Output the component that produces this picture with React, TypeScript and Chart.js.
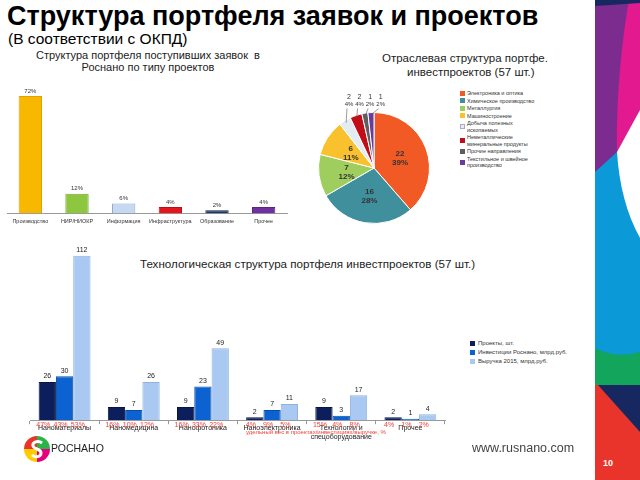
import React, { useEffect, useRef } from 'react';
import { Chart, registerables } from 'chart.js';

Chart.register(...registerables);

const FONT = '"Liberation Sans", Arial, sans-serif';

// ---- Chart 1: applications by project type ----
const appTypes = ['Производство', 'НИР/НИОКР', 'Информация', 'Инфраструктура', 'Образование', 'Прочее'];
const appShares = [72, 12, 6, 4, 2, 4];
const appColors = ['#f9b800', '#8dc63f', '#c6d9f1', '#e3151d', '#1f3864', '#7030a0'];
const appBorders = ['#e0a200', '#76a934', '#8eaad6', '#b80f15', '#132447', '#5a2582'];

// ---- Chart 2: industry structure ----
const industries = [
  'Электроника и оптика',
  'Химическое производство',
  'Металлургия',
  'Машиностроение',
  'Добыча полезных ископаемых',
  'Неметаллические минеральные продукты',
  'Прочие направления',
  'Текстильное и швейное производство',
];
const industryLegendLines = [
  ['Электроника и оптика'],
  ['Химическое производство'],
  ['Металлургия'],
  ['Машиностроение'],
  ['Добыча полезных', 'ископаемых'],
  ['Неметаллические', 'минеральные продукты'],
  ['Прочие направления'],
  ['Текстильное и швейное', 'производство'],
];
const industryProjects = [22, 16, 7, 6, 2, 2, 1, 1];
const industryPct = ['39%', '28%', '12%', '11%', '4%', '4%', '2%', '2%'];
const industryColors = ['#f15a25', '#3f8f9d', '#9fcd5e', '#f9c12e', '#e2ecf1', '#c00d17', '#5e5e5e', '#6a3b9c'];

// ---- Chart 3: technology structure ----
const techAreas = [['Наноматериалы'], ['Наномедицина'], ['Нанофотоника'], ['Наноэлектроника'], ['Технологии и', 'спецоборудование'], ['Прочее']];
const seriesNames = ['Проекты, шт.', 'Инвестиции Роснано, млрд.руб.', 'Выручка 2015, млрд.руб.'];
const seriesColors = ['#0c1f5c', '#0b62d0', '#a9c9f2'];
const seriesBorders = ['#08163f', '#084ea6', '#8fb2de'];
const projects = [26, 9, 9, 2, 9, 2];
const investments = [30, 7, 23, 7, 3, 1];
const revenue = [112, 26, 49, 11, 17, 4];
const projectsPct = ['47%', '16%', '16%', '4%', '15%', '4%'];
const investmentsPct = ['43%', '10%', '33%', '9%', '4%', '1%'];
const revenuePct = ['53%', '12%', '22%', '5%', '8%', '2%'];

function valueLabels(fmt: (v: number) => string, font: string, color: string) {
  return {
    id: 'valueLabels',
    afterDatasetsDraw(chart: any) {
      const ctx = chart.ctx;
      ctx.save();
      ctx.font = font;
      ctx.fillStyle = color;
      ctx.textAlign = 'center';
      ctx.textBaseline = 'bottom';
      chart.data.datasets.forEach((ds: any, di: number) => {
        chart.getDatasetMeta(di).data.forEach((el: any, i: number) => {
          ctx.fillText(fmt(ds.data[i]), el.x, el.y - 2);
        });
      });
      ctx.restore();
    },
  };
}

const pctLabelsPlugin = {
  id: 'pctLabels',
  afterDraw(chart: any) {
    const ctx = chart.ctx;
    const all = [projectsPct, investmentsPct, revenuePct];
    ctx.save();
    ctx.font = `7px ${FONT}`;
    ctx.fillStyle = '#f0403c';
    ctx.textAlign = 'center';
    ctx.textBaseline = 'top';
    chart.data.datasets.forEach((_ds: any, di: number) => {
      chart.getDatasetMeta(di).data.forEach((el: any, i: number) => {
        ctx.fillText(all[di][i], el.x - 4, chart.chartArea.bottom + 1);
      });
    });
    ctx.restore();
  },
};

const pieLabelsPlugin = {
  id: 'pieLabels',
  afterDatasetsDraw(chart: any) {
    const ctx = chart.ctx;
    const meta = chart.getDatasetMeta(0);
    ctx.save();
    ctx.textAlign = 'center';
    ctx.textBaseline = 'middle';
    meta.data.forEach((arc: any, i: number) => {
      const p = arc.getProps(['x', 'y', 'startAngle', 'endAngle', 'outerRadius'], true);
      const mid = (p.startAngle + p.endAngle) / 2;
      const v = String(industryProjects[i]);
      if (i < 4) {
        const px = p.x + Math.cos(mid) * p.outerRadius * 0.5;
        const py = p.y + Math.sin(mid) * p.outerRadius * 0.5;
        ctx.fillStyle = '#333';
        ctx.font = `bold 8px ${FONT}`;
        ctx.fillText(v, px, py - 4);
        ctx.fillText(industryPct[i], px, py + 5);
      } else {
        const j = i - 4;
        const lx = p.x - p.outerRadius * 0.45 + j * p.outerRadius * 0.19;
        const top = p.y - p.outerRadius;
        ctx.strokeStyle = '#555';
        ctx.lineWidth = 0.6;
        ctx.beginPath();
        ctx.moveTo(lx - 2, top - 4);
        ctx.lineTo(p.x + Math.cos(mid) * p.outerRadius * 0.96, p.y + Math.sin(mid) * p.outerRadius * 0.96);
        ctx.stroke();
        ctx.fillStyle = '#333';
        ctx.font = `7px ${FONT}`;
        ctx.fillText(v, lx, top - 15);
        ctx.font = `6px ${FONT}`;
        ctx.fillText(industryPct[i], lx, top - 8);
      }
    });
    ctx.restore();
  },
};

function useChart(ref: React.RefObject<HTMLCanvasElement>, make: () => any) {
  useEffect(() => {
    if (!ref.current) return;
    const chart = new Chart(ref.current, make());
    return () => chart.destroy();
  }, []);
}

function Band() {
  return (
    <svg width={45} height={480} style={{ position: 'absolute', left: 595, top: 0 }}>
      <rect x={0} y={0} width={45} height={480} fill="#0b9ad7" />
      <polygon points="0,0 45,0 45,120 22,152 0,172" fill="#7b2c8e" />
      <path d="M34,0 L45,0 L45,112 L22,152 C21,110 25,50 34,0 Z" fill="#e3198f" />
      <polygon points="0,0 45,0 45,3 0,6" fill="#16285f" />
      <path d="M22,152 L45,110 L45,238 C32,215 24,185 22,152 Z" fill="#ffffff" />
      <path d="M0,348 C15,356 30,356 45,352 L45,392 L0,392 Z" fill="#12a55b" />
      <rect x={0} y={385} width={45} height={95} fill="#e8342a" />
      <polygon points="3,385 45,385 45,432" fill="#16285f" />
      <text x={8} y={466} fill="#fff" fontSize={9} fontWeight="bold" fontFamily={FONT}>10</text>
    </svg>
  );
}

function Logo() {
  return (
    <svg width={28} height={28} style={{ position: 'absolute', left: 23, top: 435 }}>
      <path d="M14,14 L14,1 A13,13 0 0 1 27,14 Z" fill="#2bb34a" />
      <path d="M14,14 L27,14 A13,13 0 0 1 14,27 Z" fill="#e6007e" />
      <path d="M14,14 L14,27 A13,13 0 0 1 1,14 Z" fill="#ffcc00" />
      <path d="M14,14 L1,14 A13,13 0 0 1 14,1 Z" fill="#e8342a" />
      <path d="M19,8 C15,5 9,7 10,11 C11,15 18,13 18,18 C18,22 12,23 9,20" stroke="#fff" strokeWidth={3} fill="none" />
    </svg>
  );
}

export default function App() {
  const c1 = useRef<HTMLCanvasElement>(null);
  const c2 = useRef<HTMLCanvasElement>(null);
  const c3 = useRef<HTMLCanvasElement>(null);

  useChart(c1, () => ({
    type: 'bar',
    data: {
      labels: appTypes,
      datasets: [{
        data: appShares,
        backgroundColor: appColors,
        borderColor: appBorders,
        borderWidth: 1,
        barPercentage: 0.5,
        categoryPercentage: 1,
      }],
    },
    options: {
      responsive: false,
      animation: false,
      layout: { padding: { left: 7, right: 8, top: 8, bottom: 5 } },
      plugins: { legend: { display: false }, tooltip: { enabled: false } },
      scales: {
        y: { display: false, min: 0, max: 80 },
        x: {
          grid: { display: false, drawTicks: false },
          border: { display: true, color: '#999' },
          ticks: { font: { size: 5.5, family: FONT }, color: '#333', padding: 5, maxRotation: 0, autoSkip: false },
        },
      },
    },
    plugins: [valueLabels((v) => v + '%', `6px ${FONT}`, '#333')],
  }));

  useChart(c2, () => ({
    type: 'pie',
    data: {
      labels: industries,
      datasets: [{
        data: industryProjects,
        backgroundColor: industryColors,
        borderColor: '#ffffff',
        borderWidth: 1,
      }],
    },
    options: {
      responsive: false,
      animation: false,
      layout: { padding: { top: 22, bottom: 6, left: 10, right: 10 } },
      plugins: { legend: { display: false }, tooltip: { enabled: false } },
    },
    plugins: [pieLabelsPlugin],
  }));

  useChart(c3, () => ({
    type: 'bar',
    data: {
      labels: techAreas,
      datasets: [projects, investments, revenue].map((d, k) => ({
        label: seriesNames[k],
        data: d,
        backgroundColor: seriesColors[k],
        borderColor: seriesBorders[k],
        borderWidth: 1,
        barPercentage: 1,
        categoryPercentage: 0.75,
      })),
    },
    options: {
      responsive: false,
      animation: false,
      layout: { padding: { left: 30, right: 15, top: 4, bottom: 9 } },
      plugins: { legend: { display: false }, tooltip: { enabled: false } },
      scales: {
        y: { display: false, min: 0, max: 120 },
        x: {
          grid: { display: true, drawOnChartArea: false, drawTicks: true, tickLength: 4, color: '#999', offset: true },
          border: { display: true, color: '#999' },
          ticks: { font: { size: 7, family: FONT }, color: '#222', padding: 0, maxRotation: 0, autoSkip: false },
        },
      },
    },
    plugins: [valueLabels((v) => String(v), `7px ${FONT}`, '#222'), pctLabelsPlugin],
  }));

  const abs = (o: React.CSSProperties): React.CSSProperties => ({ position: 'absolute', whiteSpace: 'nowrap', ...o });

  return (
    <div style={{ position: 'fixed', left: 0, top: 0, width: 640, height: 480, background: '#fff', overflow: 'hidden', fontFamily: FONT, color: '#000' }}>
      <div style={abs({ left: 7, top: 1, fontSize: 27, fontWeight: 'bold', lineHeight: '30px' })}>Структура портфеля заявок и проектов</div>
      <div style={abs({ left: 8, top: 30, fontSize: 15.5, lineHeight: '18px' })}>(В соответствии с ОКПД)</div>

      <div style={abs({ left: 20, top: 49, width: 256, textAlign: 'center', fontSize: 11, lineHeight: '12px', color: '#222' })}>
        Структура портфеля поступивших заявок&nbsp; в<br />Роснано по типу проектов
      </div>
      <canvas ref={c1} width={295} height={160} style={{ position: 'absolute', left: 0, top: 75 }} />

      <div style={abs({ left: 382, top: 51, fontSize: 11.5, lineHeight: '14px', color: '#222' })}>Отраслевая структура портфе.</div>
      <div style={abs({ left: 407, top: 65, fontSize: 11.5, lineHeight: '14px', color: '#222' })}>инвестпроектов (57 шт.)</div>
      <canvas ref={c2} width={132} height={140} style={{ position: 'absolute', left: 308, top: 90 }} />
      <div style={abs({ left: 460, top: 90, fontSize: 5.5, lineHeight: '6.5px', color: '#333' })}>
        {industryLegendLines.map((lines, i) => (
          <div key={i} style={{ display: 'flex', alignItems: 'center', marginBottom: 1 }}>
            <span style={{ width: 5, height: 5, background: industryColors[i], border: i === 4 ? '0.5px solid #aab' : 'none', boxSizing: 'border-box', flex: 'none', marginRight: 2 }} />
            <span>{lines.map((l, k) => (<div key={k}>{l}</div>))}</span>
          </div>
        ))}
      </div>

      <div style={abs({ left: 140, top: 257, fontSize: 11.6, lineHeight: '14px', color: '#222' })}>Технологическая структура портфеля инвестпроектов (57 шт.)</div>
      <canvas ref={c3} width={460} height={210} style={{ position: 'absolute', left: 0, top: 240 }} />
      <div style={abs({ left: 470, top: 339, fontSize: 6, lineHeight: '9px', color: '#333' })}>
        {seriesNames.map((name, i) => (
          <div key={i} style={{ display: 'flex', alignItems: 'center' }}>
            <span style={{ width: 5, height: 5, background: seriesColors[i], marginRight: 3 }} />
            {name}
          </div>
        ))}
      </div>
      <div style={abs({ left: 246, top: 429, fontSize: 6, lineHeight: '7px', color: '#f0403c' })}>удельный вес в проектах/инвестициях/выручке, %</div>

      <Logo />
      <div style={abs({ left: 51, top: 441, fontSize: 10.5, lineHeight: '14px', color: '#222' })}>РОСНАНО</div>
      <div style={abs({ left: 472, top: 440, fontSize: 12.5, lineHeight: '16px', color: '#444' })}>www.rusnano.com</div>
      <Band />
    </div>
  );
}
